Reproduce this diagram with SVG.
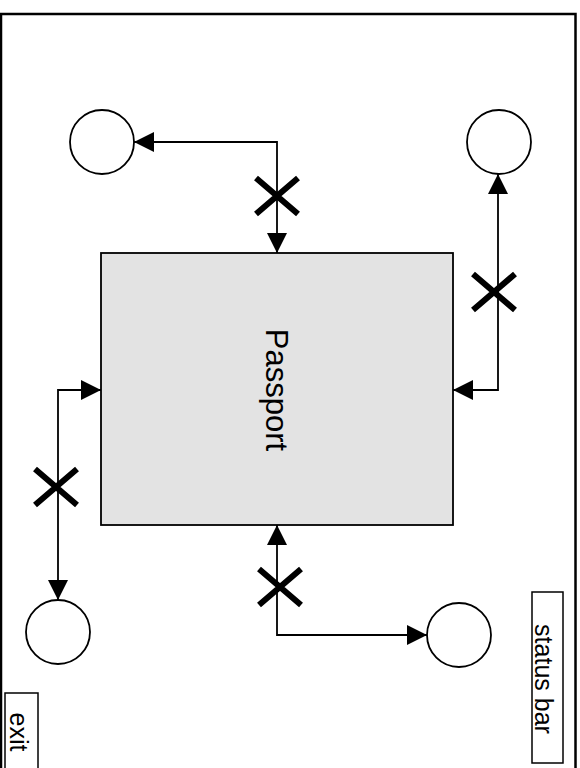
<svg xmlns="http://www.w3.org/2000/svg" width="580" height="768" viewBox="0 0 580 768">
<style>
.frame{fill:#fff;stroke:#000;stroke-width:2.5}
.box{fill:#fff;stroke:#000;stroke-width:1.5}
.node{fill:#fff;stroke:#000;stroke-width:1.8}
.main{fill:#e3e3e3;stroke:#000;stroke-width:1.8}
.lbl{font-family:"Liberation Sans",Arial,sans-serif;fill:#000}
.conn{fill:none;stroke:#000;stroke-width:1.8;marker-start:url(#arr);marker-end:url(#arr)}
.cross{fill:none;stroke:#000;stroke-width:6}
</style>
<defs>
<marker id="arr" viewBox="0 0 20 20" refX="20" refY="10" markerWidth="20" markerHeight="20" markerUnits="userSpaceOnUse" orient="auto-start-reverse">
<path d="M0,0 L20,10 L0,20 z" fill="#000"/>
</marker>
<path id="x" d="M-21,-18 L21,18 M-21,18 L21,-18"/>
</defs>
<rect class="frame" x="1" y="14" width="574.5" height="800"/>
<g id="passport">
<rect class="main" x="101" y="253" width="352" height="272"/>
<text class="lbl" x="266" y="390" font-size="31" text-anchor="middle" transform="rotate(90 266 390)">Passport</text>
</g>
<g id="node-top-left"><circle class="node" cx="102" cy="142" r="32"/></g>
<g id="node-top-right"><circle class="node" cx="499" cy="142" r="32"/></g>
<g id="node-bottom-left"><circle class="node" cx="58" cy="632" r="32"/></g>
<g id="node-bottom-right"><circle class="node" cx="459" cy="635" r="32"/></g>
<g id="exit">
<rect class="box" x="5" y="693" width="33" height="90"/>
<text class="lbl" x="10" y="732" font-size="25" text-anchor="middle" transform="rotate(90 10 732)">exit</text>
</g>
<g id="status-bar">
<rect class="box" x="532" y="592" width="31" height="171"/>
<text class="lbl" x="535" y="679" font-size="25" text-anchor="middle" transform="rotate(90 535 679)">status bar</text>
</g>
<g id="connectors">
<path class="conn" d="M277,253 L277,142 L134,142"/>
<path class="conn" d="M453,390 L498,390 L498,174"/>
<path class="conn" d="M101,390 L58,390 L58,600"/>
<path class="conn" d="M277,525 L277,635 L427,635"/>
<use href="#x" class="cross" x="277" y="196"/>
<use href="#x" class="cross" x="494" y="292"/>
<use href="#x" class="cross" x="56" y="487"/>
<use href="#x" class="cross" x="280" y="587"/>
</g>
</svg>
